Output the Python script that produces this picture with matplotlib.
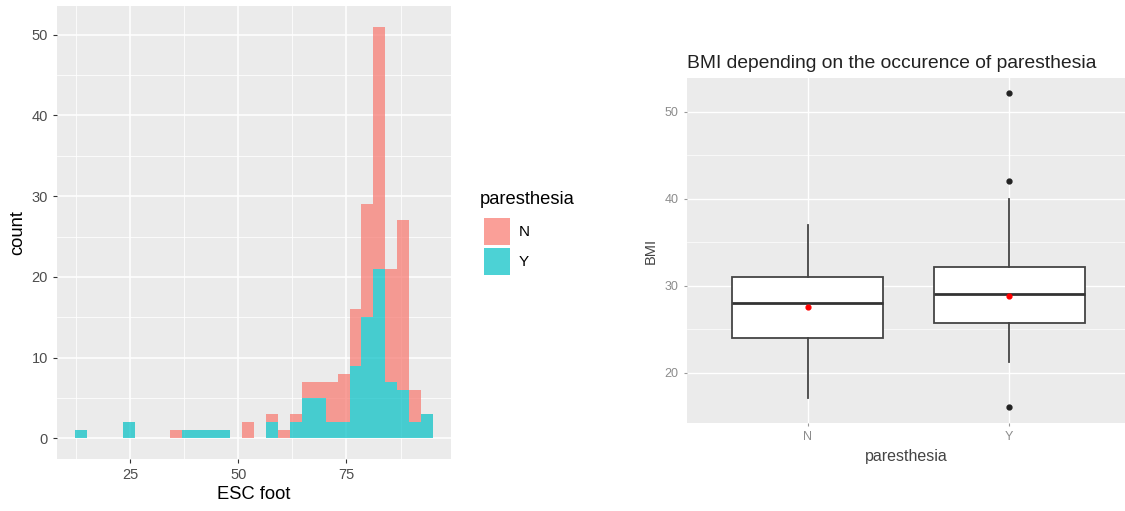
import matplotlib.pyplot as plt
import numpy as np

plt.rcParams['font.family'] = ['Liberation Sans', 'DejaVu Sans']

# ESC foot histogram (30 bins, stacked: Y at bottom, N on top)
bin_lo, bin_hi, n_bins = 12.3, 95.0, 30
count_Y = [1, 0, 0, 0, 2, 0, 0, 0, 0, 1, 1, 1, 1, 0, 0, 0, 2, 0, 2, 5,
           5, 2, 2, 9, 15, 21, 7, 6, 2, 3]
count_N = [0, 0, 0, 0, 0, 0, 0, 0, 1, 0, 0, 0, 0, 0, 2, 0, 1, 1, 1, 2,
           2, 5, 6, 7, 14, 30, 14, 21, 4, 0]
groups = ['N', 'Y']

# BMI boxplot stats
bmi_stats = [
    dict(label='N', whislo=17.1, q1=24.0, med=28.0, q3=31.0, whishi=37.0,
         mean=27.5, fliers=[]),
    dict(label='Y', whislo=21.2, q1=25.7, med=29.0, q3=32.1, whishi=40.0,
         mean=28.85, fliers=[16.0, 42.0, 52.1]),
]

pink = '#F8766D'
cyan = '#00BFC4'
panel_bg = '#EBEBEB'

fig = plt.figure(figsize=(11.25, 5.11), dpi=100)

# ---- left: histogram ----
ax = fig.add_axes([0.0507, 0.1018, 0.3502, 0.8865])
ax.set_facecolor(panel_bg)
edges = np.linspace(bin_lo, bin_hi, n_bins + 1)
w = edges[1] - edges[0]
cy = np.array(count_Y)
cn = np.array(count_N)
ax.bar(edges[:-1], cy, width=w, align='edge', color=cyan, alpha=0.7,
       linewidth=0, zorder=2)
ax.bar(edges[:-1], cn, width=w, bottom=cy, align='edge', color=pink,
       alpha=0.7, linewidth=0, zorder=2)
span = bin_hi - bin_lo
ax.set_xlim(bin_lo - 0.05 * span, bin_hi + 0.05 * span)
top = (cy + cn).max()
ax.set_ylim(-0.05 * top, top * 1.05)
ax.set_xticks([25, 50, 75])
ax.set_xticks([37.5, 62.5, 87.5, 12.5], minor=True)
ax.set_yticks([0, 10, 20, 30, 40, 50])
ax.set_yticks([5, 15, 25, 35, 45], minor=True)
ax.grid(which='major', color='white', linewidth=1.1, zorder=0)
ax.grid(which='minor', color='white', linewidth=0.55, zorder=0)
ax.set_axisbelow(True)
for s in ax.spines.values():
    s.set_visible(False)
ax.tick_params(which='major', length=3, color='#333333', labelcolor='#4D4D4D',
               labelsize=10.5)
ax.tick_params(which='minor', length=0)
ax.set_xlabel('ESC foot', fontsize=13.2, color='black', labelpad=3)
ax.set_ylabel('count', fontsize=13.2, color='black', labelpad=4)

# legend
fig.text(480 / 1125, 1 - 200 / 511, 'paresthesia', fontsize=13.2,
         va='center', ha='left')
for i, (g, c) in enumerate(zip(groups, [pink, cyan])):
    y0 = 218 + i * 30
    fig.patches.append(plt.Rectangle((484 / 1125, 1 - (y0 + 27) / 511),
                                     26 / 1125, 27 / 511, color=c, alpha=0.7,
                                     linewidth=0, transform=fig.transFigure))
    fig.text(519 / 1125, 1 - (y0 + 14) / 511, g, fontsize=11,
             va='center', ha='left')

# ---- right: boxplot ----
bx = fig.add_axes([0.6104, 0.1722, 0.3896, 0.675])
bx.set_facecolor(panel_bg)
bx.bxp(bmi_stats, positions=[1, 2], widths=0.75, showmeans=False,
       patch_artist=True,
       boxprops=dict(facecolor='white', edgecolor='#444444', linewidth=1.3),
       medianprops=dict(color='#333333', linewidth=2),
       whiskerprops=dict(color='#444444', linewidth=1.3),
       capprops=dict(linewidth=0),
       flierprops=dict(marker='o', markerfacecolor='#222222',
                       markeredgecolor='#222222', markersize=3.5),
       zorder=3)
bx.scatter([1, 2], [s['mean'] for s in bmi_stats], color='red', s=12,
           zorder=4)
bx.set_xlim(0.4, 2.575)
bx.set_ylim(14.2, 53.85)
bx.set_xticks([1, 2])
bx.set_xticklabels(groups)
bx.set_yticks([20, 30, 40, 50])
bx.set_yticks([25, 35, 45], minor=True)
bx.grid(which='major', color='white', linewidth=1.0, zorder=0)
bx.grid(which='minor', axis='y', color='white', linewidth=0.5, zorder=0)
bx.set_axisbelow(True)
for s in bx.spines.values():
    s.set_visible(False)
bx.tick_params(which='major', length=2.5, color='#999999',
               labelcolor='#8C8C8C', labelsize=9)
bx.tick_params(which='minor', length=0)
bx.set_xlabel('paresthesia', fontsize=11.5, color='#444444', labelpad=4)
bx.set_ylabel('BMI', fontsize=10.5, color='#444444', labelpad=5)
bx.set_title('BMI depending on the occurence of paresthesia', fontsize=13.9,
             loc='left', color='#222222', pad=7)

fig.savefig('out.png', dpi=100)
